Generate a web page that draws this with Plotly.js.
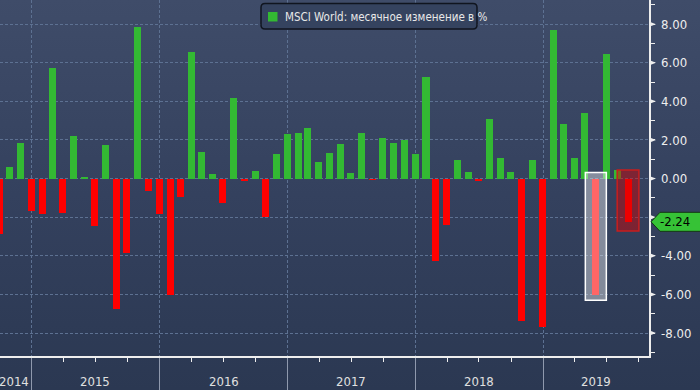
<!DOCTYPE html>
<html>
<head>
<meta charset="utf-8">
<script src="https://cdn.plot.ly/plotly-3.0.1.min.js"></script>
<style>
  html, body { margin: 0; padding: 0; }
  body { width: 700px; height: 390px; overflow: hidden;
         background: linear-gradient(to bottom, #3f4c69 0%, #34415e 50%, #2b3852 100%); }
  #chart { width: 700px; height: 390px; }
</style>
</head>
<body>
<div id="chart"></div>
<script>
// ---- data (month-end dates, MSCI World monthly change, %) ----
const months = [
  '2014-09-30','2014-10-31','2014-11-30','2014-12-31',
  '2015-01-31','2015-02-28','2015-03-31','2015-04-30','2015-05-31','2015-06-30',
  '2015-07-31','2015-08-31','2015-09-30','2015-10-31','2015-11-30','2015-12-31',
  '2016-01-31','2016-02-29','2016-03-31','2016-04-30','2016-05-31','2016-06-30',
  '2016-07-31','2016-08-31','2016-09-30','2016-10-31','2016-11-30','2016-12-31',
  '2017-01-31','2017-02-28','2017-03-31','2017-04-30','2017-05-31','2017-06-30',
  '2017-07-31','2017-08-31','2017-09-30','2017-10-31','2017-11-30','2017-12-31',
  '2018-01-31','2018-02-28','2018-03-31','2018-04-30','2018-05-31','2018-06-30',
  '2018-07-31','2018-08-31','2018-09-30','2018-10-31','2018-11-30','2018-12-31',
  '2019-01-31','2019-02-28','2019-03-31','2019-04-30','2019-05-31','2019-06-30',
  '2019-07-31','2019-08-31'
];
const changes = [
  -2.86, 0.60, 1.83, -1.70,
  -1.84, 5.73, -1.78, 2.20, 0.07, -2.46, 1.73, -6.77, -3.85, 7.86, -0.64, -1.84,
  -6.05, -0.95, 6.56, 1.37, 0.22, -1.27, 4.17, -0.13, 0.38, -1.99, 1.26, 2.30,
  2.35, 2.61, 0.85, 1.31, 1.78, 0.28, 2.35, -0.05, 2.09, 1.83, 2.00, 1.26,
  5.26, -4.28, -2.41, 0.95, 0.33, -0.14, 3.08, 1.05, 0.33, -7.40, 0.95, -7.71,
  7.70, 2.82, 1.05, 3.39, -6.01, 6.46, 0.43, -2.24
];
const seriesName = 'MSCI World: месячное изменение в %';
const yTickVals = [-8, -6, -4, -2, 0, 2, 4, 6, 8];
const yearLabels = ['2014', '2015', '2016', '2017', '2018', '2019'];
const yearLabelDates = ['2014-11-12', '2015-07-02', '2016-07-02', '2017-07-02', '2018-07-02', '2019-05-31'];
const highlightMonth = '2019-05-31';

// ---- styling / geometry ----
const W = 700, H = 390, M = {l: 0, r: 51, t: 0, b: 34};
const PW = W - M.l - M.r, PH = H - M.t - M.b;
const DAY = 86400000;
const fontFam = '"DejaVu Sans Condensed", "DejaVu Sans", sans-serif';
const green = '#33b933', red = '#ff0000';

const pos = changes.map(v => v >= 0 ? v : null);
const neg = changes.map(v => v < 0 ? v : null);
const lIdx = changes.length - 1;
const last = changes[lIdx];
// the tick label hidden behind the current-value callout is left blank
const yTickText = yTickVals.map(v => Math.abs(v - last) < 0.6 ? '' : v.toFixed(2));

function shiftDate(d, days) {
  const t = new Date(d + 'T00:00:00Z').getTime() + days * DAY;
  return new Date(t).toISOString().slice(0, 19).replace('T', ' ');
}
const px = x => x / PW;
const py = y => 1 - y / PH;

const barWidth = 20 * DAY;
const traces = [
  {type: 'bar', x: months, y: pos, name: seriesName, width: barWidth,
   marker: {color: green, line: {width: 0}}, showlegend: false, hoverinfo: 'x+y'},
  {type: 'bar', x: months, y: neg, name: seriesName, width: barWidth,
   marker: {color: red, line: {width: 0}}, showlegend: false, hoverinfo: 'x+y'}
];

const shapes = [];
// highlight box (white) around the selected month
const hIdx = months.indexOf(highlightMonth);
shapes.push({type: 'rect', xref: 'x', yref: 'y',
  x0: shiftDate(months[hIdx], -30), x1: shiftDate(months[hIdx], 30),
  y0: changes[hIdx] - 0.29, y1: 0.32,
  fillcolor: 'rgba(255,255,255,0.40)', line: {color: '#ffffff', width: 1.5}});
// current month box (red)
shapes.push({type: 'rect', xref: 'x', yref: 'y',
  x0: shiftDate(months[lIdx], -31), x1: shiftDate(months[lIdx], 31),
  y0: last - 0.48, y1: 0.44,
  fillcolor: 'rgba(215,0,0,0.45)', line: {color: '#c81e1e', width: 1.5}});
// tick arrows on right axis
yTickVals.forEach(v => shapes.push({type: 'path', xref: 'paper', yref: 'y',
  xsizemode: 'pixel', ysizemode: 'pixel', xanchor: 1, yanchor: v,
  path: 'M 0 2.7 L 7 0 L 0 -2.7 Z', fillcolor: '#eeeeee', line: {width: 0}}));
// current value callout
shapes.push({type: 'path', xref: 'paper', yref: 'y',
  xsizemode: 'pixel', ysizemode: 'pixel', xanchor: 1, yanchor: last,
  path: 'M 2 0 L 11 9.5 L 60 9.5 L 60 -9.5 L 11 -9.5 Z',
  fillcolor: '#36c236', line: {color: '#143614', width: 1}});
// legend box (rounded)
(function () {
  const x0 = 261, x1 = 477, y0 = 3.5, y1 = 29, r = 4;
  const p = `M ${px(x0 + r)} ${py(y0)} L ${px(x1 - r)} ${py(y0)} Q ${px(x1)} ${py(y0)} ${px(x1)} ${py(y0 + r)} ` +
            `L ${px(x1)} ${py(y1 - r)} Q ${px(x1)} ${py(y1)} ${px(x1 - r)} ${py(y1)} ` +
            `L ${px(x0 + r)} ${py(y1)} Q ${px(x0)} ${py(y1)} ${px(x0)} ${py(y1 - r)} ` +
            `L ${px(x0)} ${py(y0 + r)} Q ${px(x0)} ${py(y0)} ${px(x0 + r)} ${py(y0)} Z`;
  shapes.push({type: 'path', xref: 'paper', yref: 'paper', path: p,
    fillcolor: '#35435f', line: {color: '#10151f', width: 1.5}});
  shapes.push({type: 'rect', xref: 'paper', yref: 'paper',
    x0: px(268), x1: px(277.5), y0: py(21.5), y1: py(12),
    fillcolor: green, line: {width: 0}});
})();

const annotations = [];
annotations.push({xref: 'paper', yref: 'paper', x: px(283), y: py(16.5),
  xanchor: 'left', yanchor: 'middle', showarrow: false, text: seriesName,
  font: {family: fontFam, size: 11.5, color: '#e8e8e8'}});
annotations.push({xref: 'paper', yref: 'y', x: 1, y: last, xshift: 26,
  xanchor: 'center', yanchor: 'middle', showarrow: false, text: last.toFixed(2),
  font: {family: fontFam, size: 13, color: '#000000'}});
yearLabels.forEach((t, i) => annotations.push({xref: 'x', yref: 'paper',
  x: yearLabelDates[i], y: py(381), xanchor: 'center', yanchor: 'middle',
  showarrow: false, text: t, font: {family: fontFam, size: 13, color: '#e0e0e0'}}));

const layout = {
  width: W, height: H, margin: M,
  paper_bgcolor: 'rgba(0,0,0,0)', plot_bgcolor: 'rgba(0,0,0,0)',
  barmode: 'overlay', bargap: 0,
  showlegend: false,
  font: {family: fontFam, color: '#e8e8e8'},
  xaxis: {type: 'date', range: ['2014-10-02 12:00', '2019-10-29 20:00'],
    tick0: '2015-01-01', dtick: 'M12', ticks: 'outside', ticklen: 34,
    tickcolor: '#8f99ad', tickwidth: 1, showticklabels: false,
    showgrid: true, gridcolor: '#5d7192', griddash: '3px,2px', gridwidth: 1,
    showline: true, linecolor: '#eeeeee', linewidth: 1.5,
    minor: {dtick: 'M3', tick0: '2015-01-01', ticks: 'outside', ticklen: 4,
            tickcolor: '#eeeeee', tickwidth: 1, showgrid: false},
    zeroline: false, fixedrange: true},
  yaxis: {side: 'right', range: [-9.19, 9.25],
    tickmode: 'array', tickvals: yTickVals, ticktext: yTickText,
    ticks: 'outside', ticklen: 8, tickcolor: 'rgba(0,0,0,0)',
    tickfont: {family: fontFam, size: 13, color: '#eeeeee'},
    showgrid: true, gridcolor: '#5d7192', griddash: '3px,2px', gridwidth: 1,
    showline: true, linecolor: '#eeeeee', linewidth: 1.5,
    minor: {tickmode: 'linear', tick0: 0, dtick: 1, ticks: 'outside', ticklen: 4,
            tickcolor: '#eeeeee', tickwidth: 1, showgrid: false},
    zeroline: false, fixedrange: true},
  shapes: shapes,
  annotations: annotations
};

Plotly.newPlot('chart', traces, layout, {displayModeBar: false, staticPlot: true});
</script>
</body>
</html>
